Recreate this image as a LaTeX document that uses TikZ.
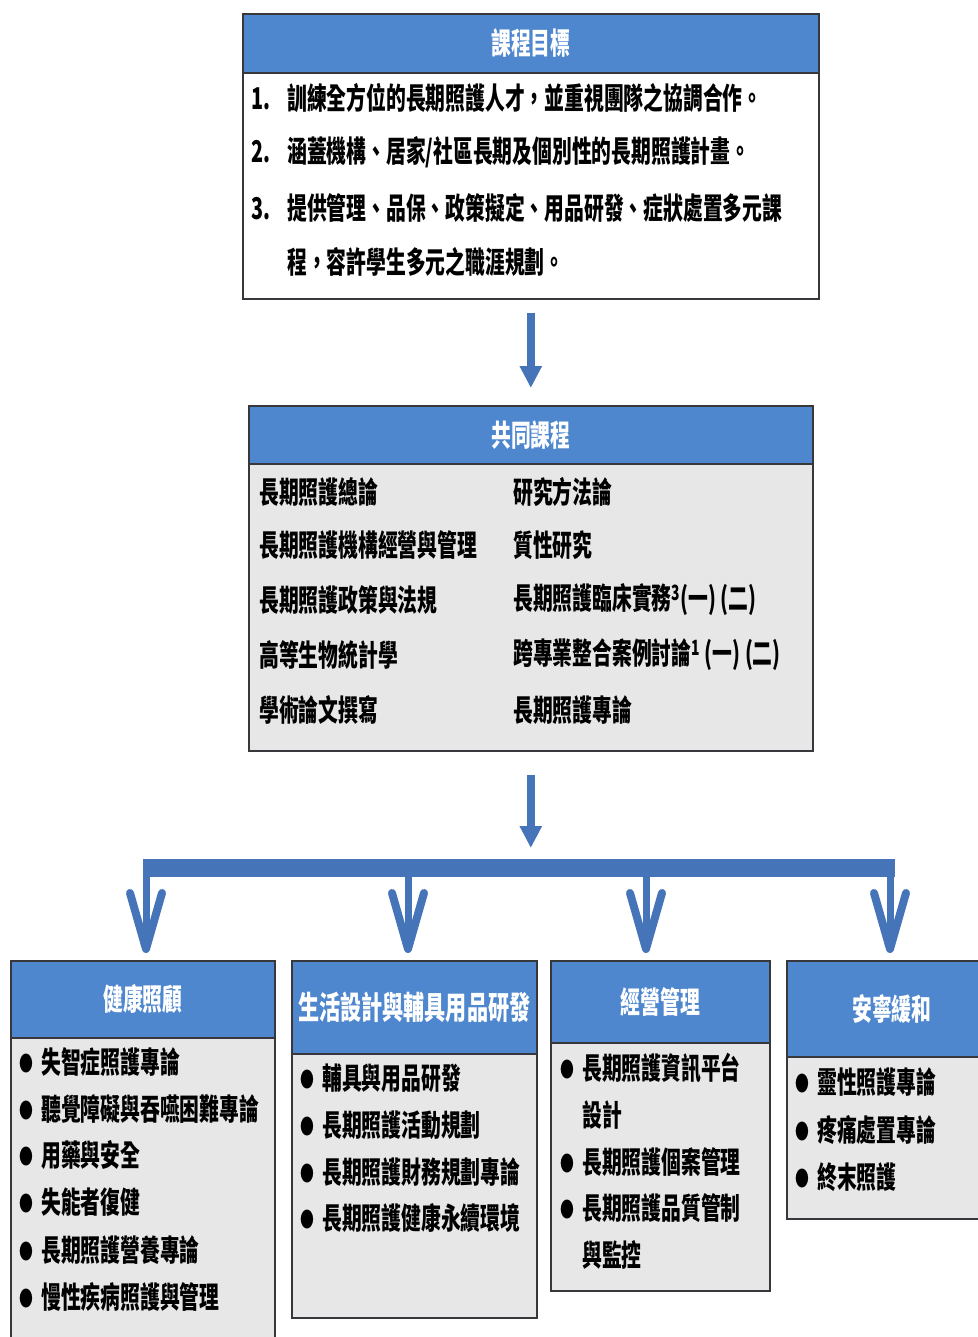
\documentclass[tikz,border=0pt]{standalone}
\usepackage{fontspec}
\setmainfont{Noto Sans CJK TC}[FakeStretch=0.66]
\usetikzlibrary{arrows.meta}

\definecolor{headblue}{RGB}{78,135,206}
\definecolor{bodygray}{RGB}{231,231,231}
\definecolor{arrowblue}{RGB}{70,116,185}
\definecolor{frameline}{RGB}{55,55,60}

\newcommand{\boxfont}{\fontsize{30}{34}\selectfont\bfseries}
\newcommand{\bul}{\makebox[22pt][l]{\raisebox{2pt}{\fontsize{21}{21}\selectfont ●}}}
\newcommand{\num}[1]{\makebox[36pt][l]{#1}}

\tikzstyle{box}=[rectangle, draw=frameline, line width=1.6,
                 inner sep=0, anchor=north west]
\tikzstyle{head}=[box, fill=headblue, text=white, font=\boxfont]
\tikzstyle{body}=[box, fill=bodygray]
\tikzstyle{line}=[anchor=west, inner sep=0, font=\boxfont]
\tikzstyle{flow}=[draw=arrowblue, line width=8,
                  -{Triangle[length=22pt, width=21pt]}]
\tikzstyle{branch}=[draw=arrowblue, line width=7,
                    -{Straight Barb[length=56pt, width=32pt, line width=8pt, round]}]

\begin{document}
\begin{tikzpicture}[x=1pt, y=-1pt]
  \useasboundingbox (0, 0) rectangle (977, 1337);

  %%%%%%%%%%%%%%%%%%%%%%%%%%%%%%
  %%%%%%%%%%%%%%%%%%%%%%%%%%%%%%
  % boxes

  %%%%%%%%%%%%%%%%%%%%%%%%%%%%%%
  % goals
  \node (goal_head) at (242, 13) [head, minimum width=576, minimum height=59] {課程目標};
  \node (goal_body) at (242, 72) [body, fill=white, minimum width=576, minimum height=226] {};

  \node (goal_1) at (251, 98) [line] {\num{1.}訓練全方位的長期照護人才，並重視團隊之協調合作。};
  \node (goal_2) at (251, 152) [line] {\num{2.}涵蓋機構、居家/社區長期及個別性的長期照護計畫。};
  \node (goal_3) at (251, 208) [line] {\num{3.}提供管理、品保、政策擬定、用品研發、症狀處置多元課};
  \node (goal_4) at (287, 262) [line] {程，容許學生多元之職涯規劃。};

  %%%%%%%%%%%%%%%%%%%%%%%%%%%%%%
  % common courses
  \node (common_head) at (248, 405) [head, minimum width=564, minimum height=58] {共同課程};
  \node (common_body) at (248, 463) [body, minimum width=564, minimum height=287] {};

  \node (common_l1) at (259, 492) [line] {長期照護總論};
  \node (common_l2) at (259, 545) [line] {長期照護機構經營與管理};
  \node (common_l3) at (259, 600) [line] {長期照護政策與法規};
  \node (common_l4) at (259, 655) [line] {高等生物統計學};
  \node (common_l5) at (259, 710) [line] {學術論文撰寫};

  \node (common_r1) at (513, 492) [line] {研究方法論};
  \node (common_r2) at (513, 545) [line] {質性研究};
  \node (common_r3) at (513, 600) [line] {長期照護臨床實務\textsuperscript{3}(一) (二)};
  \node (common_r4) at (513, 655) [line] {跨專業整合案例討論\textsuperscript{1} (一) (二)};
  \node (common_r5) at (513, 710) [line] {長期照護專論};

  %%%%%%%%%%%%%%%%%%%%%%%%%%%%%%
  % tracks
  % health care
  \node (care_head) at (10, 960) [head, minimum width=264, minimum height=77] {健康照顧};
  \node (care_body) at (10, 1037) [body, minimum width=264, minimum height=310] {};

  \node (care_1) at (19, 1062) [line] {\bul 失智症照護專論};
  \node (care_2) at (19, 1109) [line] {\bul 聽覺障礙與吞嚥困難專論};
  \node (care_3) at (19, 1155) [line] {\bul 用藥與安全};
  \node (care_4) at (19, 1202) [line] {\bul 失能者復健};
  \node (care_5) at (19, 1250) [line] {\bul 長期照護營養專論};
  \node (care_6) at (19, 1297) [line] {\bul 慢性疾病照護與管理};

  % design
  \node (design_head) at (291, 960) [head, minimum width=245, minimum height=93,
                                     font=\fontsize{32}{36}\selectfont\bfseries] {生活設計與輔具用品研發};
  \node (design_body) at (291, 1053) [body, minimum width=245, minimum height=264] {};

  \node (design_1) at (300, 1078) [line] {\bul 輔具與用品研發};
  \node (design_2) at (300, 1125) [line] {\bul 長期照護活動規劃};
  \node (design_3) at (300, 1172) [line] {\bul 長期照護財務規劃專論};
  \node (design_4) at (300, 1218) [line] {\bul 長期照護健康永續環境};

  % management
  \node (manage_head) at (550, 960) [head, minimum width=219, minimum height=82] {經營管理};
  \node (manage_body) at (550, 1042) [body, minimum width=219, minimum height=248] {};

  \node (manage_1) at (560, 1068) [line] {\bul 長期照護資訊平台};
  \node (manage_2) at (582, 1115) [line] {設計};
  \node (manage_3) at (560, 1162) [line] {\bul 長期照護個案管理};
  \node (manage_4) at (560, 1208) [line] {\bul 長期照護品質管制};
  \node (manage_5) at (582, 1255) [line] {與監控};

  % hospice
  \node (hospice_head) at (786, 960) [head, minimum width=210, minimum height=96] {安寧緩和};
  \node (hospice_body) at (786, 1056) [body, minimum width=210, minimum height=162] {};

  \node (hospice_1) at (795, 1082) [line] {\bul 靈性照護專論};
  \node (hospice_2) at (795, 1130) [line] {\bul 疼痛處置專論};
  \node (hospice_3) at (795, 1177) [line] {\bul 終末照護};

  %%%%%%%%%%%%%%%%%%%%%%%%%%%%%%
  % links
  \draw [flow, shorten <=13, shorten >=17] (goal_body) to (common_head);

  \node (bar) at (143, 859) [rectangle, fill=arrowblue, inner sep=0, anchor=north west,
                             minimum width=752, minimum height=18] {};
  \draw [flow, shorten <=23, shorten >=11] (common_body.south) to (common_body.south |- bar.north);

  \coordinate (fork_care) at (146, 870);
  \coordinate (fork_design) at (408, 870);
  \coordinate (fork_manage) at (646, 870);
  \coordinate (fork_hospice) at (890, 870);
  \draw [branch, shorten >=7] (fork_care) to (fork_care |- care_head.north);
  \draw [branch, shorten >=7] (fork_design) to (fork_design |- design_head.north);
  \draw [branch, shorten >=7] (fork_manage) to (fork_manage |- manage_head.north);
  \draw [branch, shorten >=7] (fork_hospice) to (fork_hospice |- hospice_head.north);

\end{tikzpicture}
\end{document}
